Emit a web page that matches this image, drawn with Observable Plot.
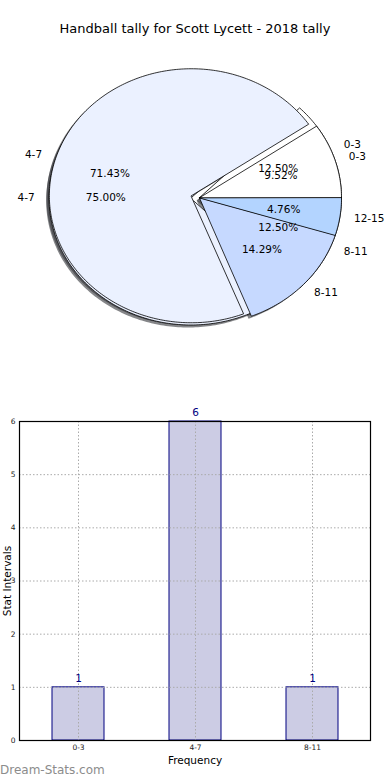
<!DOCTYPE html>
<html>
<head>
<meta charset="utf-8">
<script src="https://cdn.jsdelivr.net/npm/d3@7"></script>
<script src="https://cdn.jsdelivr.net/npm/@observablehq/plot@0.6"></script>
<style>
  html, body { margin: 0; padding: 0; background: #fff; }
  #page { position: relative; width: 390px; height: 780px; overflow: hidden; font-family: "DejaVu Sans", sans-serif; }
  #title { position: absolute; top: 21px; left: 0; width: 390px; text-align: center; font-size: 13px; color: #000; }
  #pie { position: absolute; top: 0; left: 0; }
  #bars { position: absolute; top: 400px; left: 0; }
  #credit { position: absolute; left: 0; top: 763px; font-size: 12px; color: #8c8c8c; }
</style>
</head>
<body>
<div id="page">
  <div id="title">Handball tally for Scott Lycett - 2018 tally</div>
  <div id="pie"></div>
  <div id="bars"></div>
  <div id="credit">Dream-Stats.com</div>
</div>
<script>
// ---- data ----
const underLabels = ["0-3", "4-7", "8-11"];
const underValues = [1, 6, 1];
const overLabels = ["0-3", "4-7", "8-11", "12-15"];
const overValues = [2, 15, 3, 1];
const sliceColors = {"0-3": "#ffffff", "4-7": "#ebf1ff", "8-11": "#c6d9ff", "12-15": "#b3d4ff"};
const explodeCats = ["4-7"];

const barCategories = ["0-3", "4-7", "8-11"];
const barValues = [1, 6, 1];
const yTicks = [0, 1, 2, 3, 4, 5, 6];

// ---- pie geometry (from values) ----
const EXPLODE = 0.06;
function buildPie(labels, values, pieId) {
  const total = d3.sum(values);
  let start = 0;
  const wedges = [];
  labels.forEach((lab, i) => {
    const frac = values[i] / total;
    const a0 = start * 360, a1 = (start + frac) * 360;
    start += frac;
    const mid = (a0 + a1) / 2 * Math.PI / 180;
    const e = explodeCats.includes(lab) ? EXPLODE : 0;
    const ox = e * Math.cos(mid), oy = e * Math.sin(mid);
    const pts = [{x: ox, y: oy}];
    const n = Math.max(2, Math.ceil(a1 - a0));
    for (let k = 0; k <= n; k++) {
      const a = (a0 + (a1 - a0) * k / n) * Math.PI / 180;
      pts.push({x: ox + Math.cos(a), y: oy + Math.sin(a)});
    }
    wedges.push({
      id: pieId + lab, label: lab, color: sliceColors[lab], pts,
      lx: ox + 1.1 * Math.cos(mid), ly: oy + 1.1 * Math.sin(mid),
      px: ox + 0.6 * Math.cos(mid), py: oy + 0.6 * Math.sin(mid),
      pct: (frac * 100).toFixed(2) + "%",
      anchor: Math.cos(mid) >= 0 ? "start" : "end"
    });
  });
  return wedges;
}
const underPie = buildPie(underLabels, underValues, "u");
const overPie = buildPie(overLabels, overValues, "t");
const allWedges = underPie.concat(overPie);

const pieMarks = [];
// shadows
allWedges.forEach(w => {
  pieMarks.push(Plot.line(w.pts, {x: d => d.x - 0.02, y: d => d.y - 0.02, curve: "linear-closed",
    fill: "#33363a", fillOpacity: 0.6, stroke: "none"}));
});
// wedges
allWedges.forEach(w => {
  pieMarks.push(Plot.line(w.pts, {x: "x", y: "y", curve: "linear-closed",
    fill: w.color, stroke: "#000", strokeWidth: 0.8, strokeLinejoin: "miter"}));
});
// labels
const labelRows = allWedges.map(w => ({x: w.lx, y: w.ly, t: w.label, a: w.anchor}));
pieMarks.push(Plot.text(labelRows.filter(d => d.a === "start"), {x: "x", y: "y", text: "t", textAnchor: "start", fontSize: 10.5, fill: "#000"}));
pieMarks.push(Plot.text(labelRows.filter(d => d.a === "end"), {x: "x", y: "y", text: "t", textAnchor: "end", fontSize: 10.5, fill: "#000"}));
pieMarks.push(Plot.text(allWedges, {x: "px", y: "py", text: "pct", fontSize: 10.5, fill: "#000"}));

const pieSvg = Plot.plot({
  width: 390, height: 390,
  margin: 0,
  x: {domain: [-1, 1], range: [57, 341], axis: null},
  y: {domain: [-1, 1], range: [324.5, 70.5], axis: null},
  style: {fontFamily: "DejaVu Sans, sans-serif", background: "transparent", overflow: "visible"},
  marks: pieMarks
});
document.getElementById("pie").appendChild(pieSvg);

// ---- bar chart ----
const barData = barCategories.map((c, i) => ({cat: c, v: barValues[i]}));
const barSvg = Plot.plot({
  width: 390, height: 380,
  marginLeft: 19, marginRight: 20, marginTop: 21, marginBottom: 40,
  style: {fontFamily: "DejaVu Sans, sans-serif", background: "transparent", overflow: "visible"},
  x: {domain: barCategories, paddingInner: 0.556, paddingOuter: 0.278, label: null},
  y: {domain: [0, 6], label: null},
  marks: [
    Plot.barY(barData, {x: "cat", y: "v", fill: "#ccccE4", stroke: "#000080", strokeWidth: 1}),
    Plot.ruleY(yTicks, {stroke: "#aaa", strokeDasharray: "1.5,2", strokeWidth: 1}),
    Plot.ruleX(barCategories, {stroke: "#aaa", strokeDasharray: "1.5,2", strokeWidth: 1}),
    Plot.frame({stroke: "#000", strokeWidth: 1.2}),
    Plot.axisY(yTicks, {tickSize: 0, tickPadding: 4, fontSize: 7.5, fill: "#222", label: null, tickFormat: d => String(d)}),
    Plot.axisX({tickSize: 0, tickPadding: 4, fontSize: 7.5, fill: "#222", label: null}),
    Plot.text(barData, {x: "cat", y: "v", text: d => String(d.v), dy: -9, fontSize: 10.5, fill: "#000080"}),
    Plot.text(["Frequency"], {frameAnchor: "bottom", dy: 23, fontSize: 10.5, fill: "#000"}),
    Plot.text(["Stat Intervals"], {frameAnchor: "left", textAnchor: "middle", rotate: -90, dx: -12, fontSize: 10.5, fill: "#000"})
  ]
});
document.getElementById("bars").appendChild(barSvg);
</script>
</body>
</html>
